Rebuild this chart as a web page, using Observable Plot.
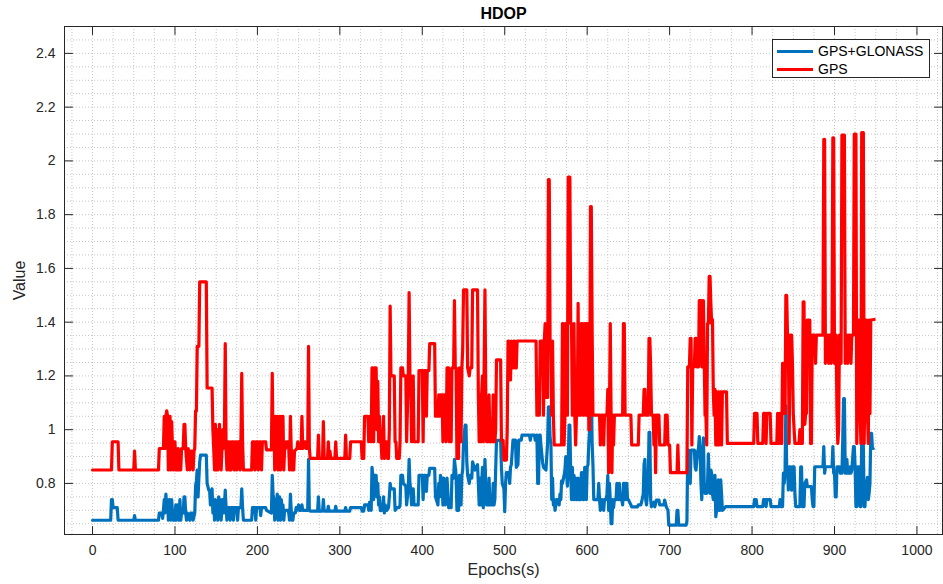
<!DOCTYPE html>
<html><head><meta charset="utf-8">
<script src="https://cdn.jsdelivr.net/npm/d3@7"></script>
<script src="https://cdn.jsdelivr.net/npm/@observablehq/plot@0.6"></script>
<style>
body{margin:0;background:#fff;}
#wrap{position:relative;width:943px;height:584px;font-family:"Liberation Sans",Arial,Helvetica,sans-serif;}
#legend{position:absolute;left:772px;top:39px;width:158px;height:39px;border:1px solid #262626;background:#fff;box-sizing:border-box;}
.item{position:absolute;left:4px;height:18px;display:flex;align-items:center;font-size:14px;color:#000;white-space:nowrap;}
.item .sw{width:36px;height:3px;margin-right:5px;}
</style></head><body><div id="wrap"></div>
<script>
const title = "HDOP";
const xLabel = "Epochs(s)";
const yLabel = "Value";
const seriesNames = ["GPS+GLONASS", "GPS"];
const seriesColors = ["#0072BD", "#FF0000"];
const xTicks = [0,100,200,300,400,500,600,700,800,900,1000];
const yTicks = [0.8,1,1.2,1.4,1.6,1.8,2,2.2,2.4];
const xDomain = [-34, 1031];
const yDomain = [0.61, 2.5];

// GPS+GLONASS HDOP: [epoch, value]
const gpsGlonass = [
[0,0.663],[22,0.663],[23,0.74],[24,0.74],[25,0.71],[30,0.71],[31,0.663],[50,0.663],[51,0.68],[52,0.663],[80,0.663],[81,0.69],[84,0.69],[85,0.67],[86,0.70],[87,0.74],[88,0.69],[89,0.76],[90,0.71],[91,0.74],[92,0.663],[93,0.74],[94,0.72],[95,0.663],[96,0.74],[97,0.69],[98,0.663],[99,0.69],[100,0.663],[101,0.72],[102,0.663],[103,0.72],[104,0.69],[105,0.663],[106,0.74],[107,0.663],[108,0.69],[110,0.69],[111,0.75],[112,0.75],[113,0.69],[114,0.663],[115,0.69],[118,0.663],[119,0.69],[121,0.69],[122,0.663],[124,0.69],[125,0.79],[126,0.81],[127,0.85],[128,0.75],[129,0.82],[130,0.88],[131,0.905],[138,0.905],[139,0.8],[141,0.775],[142,0.775],[143,0.72],[145,0.78],[146,0.69],[147,0.74],[148,0.663],[149,0.74],[150,0.68],[151,0.72],[152,0.663],[153,0.75],[154,0.7],[155,0.74],[156,0.663],[157,0.71],[158,0.74],[159,0.69],[160,0.72],[161,0.775],[162,0.71],[163,0.663],[164,0.71],[166,0.71],[167,0.663],[168,0.71],[170,0.71],[171,0.663],[172,0.71],[175,0.71],[176,0.663],[177,0.71],[180,0.71],[181,0.78],[182,0.71],[183,0.663],[193,0.663],[194,0.71],[197,0.71],[198,0.663],[199,0.71],[203,0.71],[204,0.68],[205,0.71],[210,0.71],[211,0.7],[217,0.69],[218,0.83],[219,0.76],[220,0.74],[221,0.663],[222,0.74],[223,0.7],[224,0.76],[225,0.663],[226,0.71],[227,0.75],[228,0.663],[229,0.74],[230,0.69],[231,0.72],[232,0.663],[233,0.7],[237,0.7],[238,0.69],[239,0.663],
[240,0.76],[241,0.7],[242,0.663],[243,0.663],[244,0.69],[246,0.69],[247,0.71],[248,0.7],[250,0.72],[251,0.7],[253,0.7],[254,0.72],[255,0.7],[261,0.7],[262,0.89],[263,0.7],[264,0.697],[273,0.697],[274,0.75],[275,0.697],[279,0.697],[280,0.74],[281,0.697],[285,0.697],[286,0.715],[287,0.697],[294,0.697],[295,0.715],[296,0.697],[306,0.697],[307,0.71],[308,0.697],[312,0.697],[313,0.71],[326,0.71],[327,0.697],[329,0.697],[330,0.72],[334,0.72],[335,0.7],[336,0.73],[337,0.73],[338,0.7],[339,0.86],[340,0.83],[341,0.74],[342,0.83],[344,0.83],[345,0.75],[346,0.8],[347,0.72],[348,0.75],[349,0.7],[351,0.7],[352,0.71],[353,0.75],[354,0.69],[355,0.72],[357,0.7],[359,0.71],[360,0.75],[361,0.8],[362,0.78],[366,0.78],[367,0.7],[369,0.71],[372,0.71],[373,0.72],[374,0.83],[376,0.83],[377,0.8],[380,0.79],[381,0.72],[383,0.78],[384,0.89],[385,0.8],[386,0.78],[387,0.72],[389,0.78],[390,0.72],[395,0.72],[396,0.83],[400,0.83],[401,0.74],[402,0.83],[404,0.83],[405,0.77],[406,0.83],[408,0.83],[409,0.856],[415,0.856],[416,0.75],[419,0.72],[420,0.8],[421,0.75],[422,0.83],[424,0.81],[425,0.72],[426,0.82],[428,0.72],[430,0.82],[432,0.71],[435,0.71],[436,0.83],[438,0.82],[439,0.89],[441,0.83],[442,0.7],[444,0.7],[445,0.83],[447,0.72],[448,0.83],[449,0.85],[450,0.95],[452,1.017],[453,1.017],[454,0.88],[455,0.83],[457,0.8],[458,0.83],[460,0.82],[461,0.88],[464,0.85],[467,0.87],[468,0.8],[469,0.72],[470,0.82],[471,0.72],[472,0.8],[473,0.86],[474,0.71],[475,0.8],[476,0.89],[477,0.8],[478,0.72],[480,0.72],[481,0.82],[482,0.72],[485,0.72],[486,0.8],[487,0.72],[488,0.74],[489,0.85],[490,0.96],[495,0.96],[496,0.86],[497,0.8],[499,0.78],
[500,0.695],[501,0.8],[502,0.84],[505,0.84],[506,0.8],[507,0.86],[508,0.87],[510,0.961],[513,0.961],[514,0.86],[516,0.87],[517,0.961],[520,0.961],[521,0.98],[530,0.98],[531,0.961],[532,0.98],[536,0.98],[537,0.961],[539,0.98],[540,0.8],[541,0.8],[542,0.98],[543,0.98],[544,0.94],[546,0.876],[547,0.86],[550,0.85],[551,0.9],[552,0.95],[553,1.085],[554,1.085],[555,0.97],[556,0.95],[557,0.74],[558,0.82],[559,0.72],[560,0.74],[561,0.7],[562,0.72],[563,0.74],[565,0.74],[566,0.72],[567,0.76],[568,0.74],[569,0.81],[570,0.8],[572,0.83],[573,0.85],[574,0.9],[575,0.84],[576,0.79],[577,0.86],[578,1.017],[579,1.017],[580,0.84],[581,0.74],[582,0.86],[583,0.74],[584,0.83],[585,0.74],[586,0.82],[587,0.74],[588,0.74],[589,0.82],[590,0.74],[592,0.74],[593,0.84],[594,0.84],[595,0.74],[596,0.74],[597,0.86],[598,0.86],[599,0.74],[600,0.86],[601,0.87],[602,0.95],[603,1.0],[604,1.185],[605,1.185],[606,0.95],[607,0.87],[608,0.74],[613,0.74],[614,0.8],[615,0.74],[616,0.7],[617,0.72],[618,0.74],[619,0.73],[620,0.7],[621,0.74],[623,0.74],[624,0.76],[625,0.83],[626,0.7],[627,0.8],[628,0.74],[629,0.65],[630,0.65],[631,0.74],[632,0.71],[633,0.74],[635,0.74],[636,0.8],[637,0.75],[638,0.74],[639,0.8],[640,0.74],[642,0.74],[643,0.72],[644,0.8],[645,0.8],[646,0.74],[647,0.8],[648,0.8],[649,0.74],[650,0.74],[653,0.72],[654,0.713],[661,0.713],[662,0.72],[665,0.72],[666,0.73],[668,0.76],[669,0.87],[670,0.89],[671,0.74],[672,0.72],[674,0.8],[675,0.99],[676,0.99],[677,0.74],[678,0.713],[681,0.73],[682,0.713],[684,0.738],[687,0.738],[688,0.72],[693,0.72],[694,0.738],[696,0.713],[698,0.7],[699,0.645],[708,0.645],[709,0.7],[710,0.7],[711,0.645],[720,0.645],[721,0.66],[722,0.924],[723,0.924],[724,0.84],[725,0.8],[726,0.924],[730,0.924],[731,0.86],[732,0.85],[734,0.92],[735,0.93],[736,0.974],[737,0.93],[738,0.8],[739,0.74],[740,0.86],[741,0.97],[742,0.8],[743,0.763],[744,0.77],[745,0.763],[746,0.8],[747,0.91],[748,0.8],[749,0.763],[750,0.85],[751,0.837],[752,0.76],[753,0.74],[754,0.8],[755,0.83],[756,0.676],[757,0.7],[758,0.76],[759,0.813],[760,0.7],[761,0.7],[762,0.813],[763,0.76],[764,0.7],[767,0.71],[768,0.714],[802,0.714],[803,0.74],[805,0.74],[806,0.714],[813,0.714],[814,0.74],[816,0.74],[817,0.714],[818,0.74],[822,0.74],[823,0.714],[833,0.714],[834,0.74],[835,0.714],[837,0.714],[838,0.838],[839,0.8],[840,0.838],[841,1.09],[842,0.862],[843,0.862],[844,0.776],[845,0.862],[847,0.862],[848,0.775],[849,0.862],[851,0.862],[852,0.76],[853,0.714],[858,0.714],[859,0.862],[860,0.862],[861,0.714],[863,0.714],[864,0.8],[866,0.813],[867,0.788],[872,0.788],[873,0.74],[874,0.714],[875,0.714],[876,0.862],[886,0.862],[887,0.937],[888,0.838],[889,0.862],[897,0.862],[898,0.937],[899,0.838],[900,0.838],[901,0.75],[902,0.75],[903,0.862],[906,0.862],[907,0.838],[909,0.838],[910,0.96],[911,1.116],[912,1.116],[913,0.838],[914,0.838],[915,0.89],[916,0.838],[918,0.838],[919,0.862],[920,0.838],[921,0.85],[923,0.937],[924,0.937],[925,0.862],[926,0.714],[927,0.714],[928,0.862],[930,0.862],[931,0.714],[932,0.714],[933,0.96],[934,0.99],[935,0.937],[936,0.714],[937,0.714],[938,0.8],[939,0.8],[940,0.823],[941,0.74],[942,0.764],[943,0.8],[944,0.986],[945,0.986],[946,0.93],[947,0.93]
];

// GPS HDOP: [epoch, value]
const gps = [
[0,0.85],[23,0.85],[24,0.955],[31,0.955],[32,0.85],[50,0.85],[51,0.92],[52,0.85],[80,0.85],[81,0.93],[86,0.93],[87,1.05],[88,0.93],[89,1.05],[90,1.07],[91,1.05],[92,0.85],[93,1.05],[94,1.05],[95,0.85],[96,1.03],[97,0.93],[98,0.85],[99,0.955],[100,0.955],[101,0.85],[102,0.93],[103,0.85],[104,0.93],[105,0.85],[106,0.92],[107,0.85],[108,0.93],[110,0.93],[111,1.02],[112,1.02],[113,0.93],[115,0.85],[116,0.93],[118,0.85],[119,0.92],[121,0.92],[122,0.85],[123,0.92],[124,0.93],[125,1.07],[126,1.07],[127,1.31],[129,1.31],[130,1.55],[138,1.55],[139,1.155],[145,1.155],[146,1.0],[147,0.93],[148,0.85],[149,1.02],[150,0.85],[151,1.0],[152,0.85],[153,0.93],[154,1.02],[155,0.93],[156,0.85],[157,0.93],[158,1.0],[159,0.93],[160,1.0],[161,1.32],[162,0.93],[163,0.85],[164,0.955],[165,0.955],[166,0.85],[167,0.955],[168,0.85],[169,0.955],[171,0.955],[172,0.85],[173,0.955],[174,0.955],[175,0.85],[176,0.955],[178,0.955],[179,0.85],[180,0.955],[181,1.21],[182,0.955],[183,0.85],[193,0.85],[194,0.955],[196,0.955],[197,0.85],[198,0.955],[200,0.955],[201,0.85],[202,0.955],[204,0.955],[205,0.85],[206,0.955],[210,0.955],[211,0.925],[217,0.925],[218,1.21],[219,0.925],[220,1.05],[221,0.85],[222,1.05],[223,0.93],[224,1.05],[225,0.85],[226,1.02],[227,1.05],[228,0.85],[229,1.05],[230,0.93],[231,1.05],[232,0.85],[233,0.93],[234,0.93],[235,0.955],[237,0.955],[238,0.93],[239,0.85],
[240,1.05],[241,0.93],[242,0.85],[243,0.92],[244,0.85],[245,0.92],[248,0.93],[249,0.955],[250,0.93],[253,0.93],[254,1.05],[255,0.93],[256,0.955],[258,0.955],[259,0.93],[261,0.93],[262,1.31],[263,0.93],[264,0.893],[273,0.893],[274,0.98],[275,0.893],[279,0.893],[280,1.03],[281,0.893],[285,0.893],[286,0.955],[287,0.893],[288,0.92],[289,0.893],[294,0.893],[295,0.955],[296,0.893],[306,0.893],[307,0.98],[308,0.893],[312,0.893],[313,0.955],[326,0.955],[327,0.893],[329,0.893],[330,1.05],[334,1.05],[335,0.955],[336,1.05],[337,1.05],[338,0.955],[339,1.23],[340,1.23],[341,0.955],[342,1.23],[344,1.23],[345,1.0],[346,1.18],[347,0.955],[348,1.05],[349,0.955],[350,0.955],[351,0.893],[352,0.955],[353,1.05],[354,0.893],[355,0.955],[357,0.955],[358,0.893],[359,0.893],[360,1.0],[361,1.46],[362,1.2],[366,1.2],[367,0.955],[368,0.955],[369,0.893],[372,0.893],[373,0.955],[374,1.23],[376,1.23],[377,1.2],[380,1.2],[381,0.955],[383,1.2],[384,1.51],[385,1.2],[386,1.2],[387,0.955],[389,1.2],[390,0.955],[395,0.955],[396,1.22],[400,1.22],[401,0.955],[402,1.22],[404,1.22],[405,1.05],[406,1.22],[408,1.22],[409,1.32],[415,1.32],[416,1.05],[419,1.05],[420,1.13],[421,1.05],[422,1.13],[424,1.13],[425,0.955],[426,1.13],[428,1.13],[429,0.955],[430,1.23],[432,1.23],[433,0.955],[435,0.955],[436,1.23],[438,1.23],[439,1.48],[440,1.23],[441,1.23],[442,0.893],[444,0.893],[445,1.23],[447,0.955],[448,1.23],[449,1.3],[450,1.52],[454,1.52],[455,1.23],[457,1.2],[458,1.23],[460,1.23],[461,1.52],[467,1.52],[468,1.13],[469,0.955],[470,1.13],[471,0.955],[472,1.13],[473,1.2],[474,0.955],[475,1.23],[476,1.52],[477,1.13],[478,0.955],[480,0.955],[481,1.13],[482,0.955],[485,0.955],[486,1.13],[487,0.955],[488,0.955],[489,1.0],[490,1.26],[495,1.26],[496,0.96],[498,0.96],[499,0.887],[502,0.887],[503,1.0],[504,1.33],[505,1.33],[506,1.185],[507,1.185],[508,1.33],[509,1.23],[510,1.23],[511,1.33],[512,1.33],[513,1.23],[514,1.23],[515,1.33],[538,1.33],[539,1.054],[542,1.054],[543,1.33],[546,1.33],[547,1.054],[548,1.33],[549,1.395],[550,1.12],[551,1.33],[552,1.12],[553,1.93],[554,1.93],[555,1.33],[556,1.33],[557,1.054],[558,1.33],[559,1.054],[560,0.943],[569,0.943],[570,1.395],[571,1.395],[572,0.943],[573,1.054],[574,1.395],[575,1.395],[576,1.054],[577,1.94],[579,1.94],[580,1.395],[581,1.395],[582,1.054],[583,1.054],[584,1.395],[585,1.054],[586,0.943],[587,1.054],[588,1.054],[589,1.47],[590,1.054],[592,1.054],[593,1.395],[594,1.395],[595,1.054],[596,1.054],[597,1.395],[598,1.395],[599,1.054],[600,1.395],[601,1.395],[602,1.0],[603,1.0],[604,1.83],[605,1.83],[606,1.38],[607,1.054],[615,1.054],[616,0.943],[617,1.054],[619,1.054],[620,0.943],[621,1.054],[624,1.054],[625,1.15],[626,0.84],[627,1.054],[628,1.395],[629,1.054],[630,0.84],[631,1.054],[632,0.943],[633,1.054],[643,1.054],[644,1.395],[645,1.395],[646,1.054],[653,1.054],[654,0.943],[662,0.943],[663,1.054],[668,1.054],[669,1.15],[670,1.15],[671,1.054],[674,1.054],[675,1.34],[676,1.34],[677,1.23],[678,1.054],[680,1.054],[681,0.943],[682,1.054],[683,0.84],[684,1.054],[687,1.054],[688,0.943],[694,0.943],[695,1.054],[697,1.054],[698,0.943],[700,0.943],[701,0.84],[709,0.84],[710,0.943],[711,0.84],[721,0.84],[722,1.234],[724,1.234],[725,1.34],[726,1.34],[727,0.943],[728,1.234],[730,1.234],[731,1.34],[732,1.34],[733,1.234],[735,1.234],[736,1.48],[738,1.48],[739,1.234],[740,1.48],[741,1.48],[742,1.25],[743,1.054],[744,1.054],[745,0.943],[746,1.395],[747,1.395],[748,1.57],[749,1.57],[750,1.47],[751,1.395],[752,1.41],[753,1.141],[754,1.054],[755,1.15],[756,0.943],[757,1.141],[758,0.943],[759,1.141],[760,0.943],[761,1.141],[762,1.141],[763,0.943],[764,1.141],[769,1.141],[770,0.949],[802,0.949],[803,1.061],[806,1.061],[807,0.949],[813,0.949],[814,1.061],[816,1.061],[817,0.949],[818,1.061],[822,1.061],[823,0.949],[830,0.949],[831,1.061],[832,0.949],[833,1.061],[834,1.061],[835,0.949],[836,0.949],[837,1.247],[838,1.247],[839,1.061],[840,1.061],[841,1.5],[842,1.5],[843,1.352],[844,1.352],[845,0.949],[846,1.352],[848,1.352],[849,1.247],[850,1.061],[851,1.0],[852,0.949],[857,0.949],[858,1.0],[859,0.949],[861,0.949],[862,1.476],[863,1.476],[864,1.02],[865,1.061],[866,1.061],[867,1.408],[870,1.408],[871,0.949],[872,0.949],[873,1.352],[876,1.352],[877,1.247],[878,1.352],[886,1.352],[887,2.08],[888,2.08],[889,1.247],[890,1.352],[892,1.352],[893,1.247],[894,1.352],[895,1.352],[896,1.247],[897,1.352],[898,2.086],[899,2.086],[900,1.247],[901,1.352],[902,1.352],[903,1.061],[904,0.949],[905,1.0],[906,1.352],[907,1.352],[908,1.247],[909,2.096],[912,2.096],[913,1.247],[914,1.352],[915,1.352],[916,1.247],[917,1.352],[919,1.352],[920,1.247],[921,1.352],[923,1.352],[924,2.1],[926,2.1],[927,0.949],[928,1.1],[929,1.408],[930,1.408],[931,1.1],[932,0.949],[933,2.105],[935,2.105],[936,0.949],[937,1.2],[938,1.408],[939,1.408],[940,1.06],[941,0.949],[942,1.408],[943,1.06],[944,1.408],[948,1.41]
];

const ink = "#262626";
const gridColor = "#c6c6c6";
const xGrid = d3.range(-25, 1026, 25);
const yGrid = d3.range(13, 50).map(i => +(i * 0.05).toFixed(2));
const tickShape = {draw(ctx, l) { ctx.moveTo(0, 0); ctx.lineTo(0, -l); }};
const tickOpts = {length: 8, shape: tickShape, anchor: "start", stroke: ink, strokeWidth: 1};

const chart = Plot.plot({
  width: 943, height: 584,
  marginTop: 26, marginBottom: 50, marginLeft: 64, marginRight: 1,
  x: {domain: xDomain},
  y: {domain: yDomain},
  style: {fontFamily: '"Liberation Sans", Arial, Helvetica, sans-serif', fontSize: "14px", color: ink, background: "white"},
  marks: [
    Plot.gridX({ticks: xGrid, stroke: gridColor, strokeOpacity: 1, strokeDasharray: "1,2"}),
    Plot.gridY({ticks: yGrid, stroke: gridColor, strokeOpacity: 1, strokeDasharray: "1,2"}),
    Plot.line(gpsGlonass, {x: d => d[0], y: d => d[1], stroke: seriesColors[0], strokeWidth: 3.2}),
    Plot.line(gps, {x: d => d[0], y: d => d[1], stroke: seriesColors[1], strokeWidth: 3.2}),
    Plot.frame({stroke: ink}),
    Plot.vector(xTicks, {x: d => d, frameAnchor: "bottom", rotate: 0, ...tickOpts}),
    Plot.vector(xTicks, {x: d => d, frameAnchor: "top", rotate: 180, ...tickOpts}),
    Plot.vector(yTicks, {y: d => d, frameAnchor: "left", rotate: 90, ...tickOpts}),
    Plot.vector(yTicks, {y: d => d, frameAnchor: "right", rotate: -90, ...tickOpts}),
    Plot.axisX({ticks: xTicks, anchor: "bottom", tickSize: 0, tickPadding: 11, tickFormat: d => String(d), label: null}),
    Plot.axisY({ticks: yTicks, anchor: "left", tickSize: 0, tickPadding: 9, tickFormat: d => String(d), label: null}),
    Plot.text([title], {frameAnchor: "top", dy: -13, lineAnchor: "middle", textAnchor: "middle", fontWeight: "bold", fontSize: 16, fill: "#000"}),
    Plot.text([yLabel], {frameAnchor: "left", dx: -45, lineAnchor: "middle", textAnchor: "middle", rotate: -90, fontSize: 16, fill: ink}),
    Plot.text([xLabel], {frameAnchor: "bottom", dy: 35, lineAnchor: "middle", textAnchor: "middle", fontSize: 16, fill: ink})
  ]
});

const wrap = document.getElementById("wrap");
wrap.appendChild(chart);
const legend = document.createElement("div");
legend.id = "legend";
seriesNames.forEach((name, i) => {
  const item = document.createElement("div");
  item.className = "item";
  item.style.top = (2 + i * 18) + "px";
  const sw = document.createElement("span");
  sw.className = "sw";
  sw.style.background = seriesColors[i];
  const tx = document.createElement("span");
  tx.textContent = name;
  item.appendChild(sw);
  item.appendChild(tx);
  legend.appendChild(item);
});
wrap.appendChild(legend);
</script>
</body></html>
